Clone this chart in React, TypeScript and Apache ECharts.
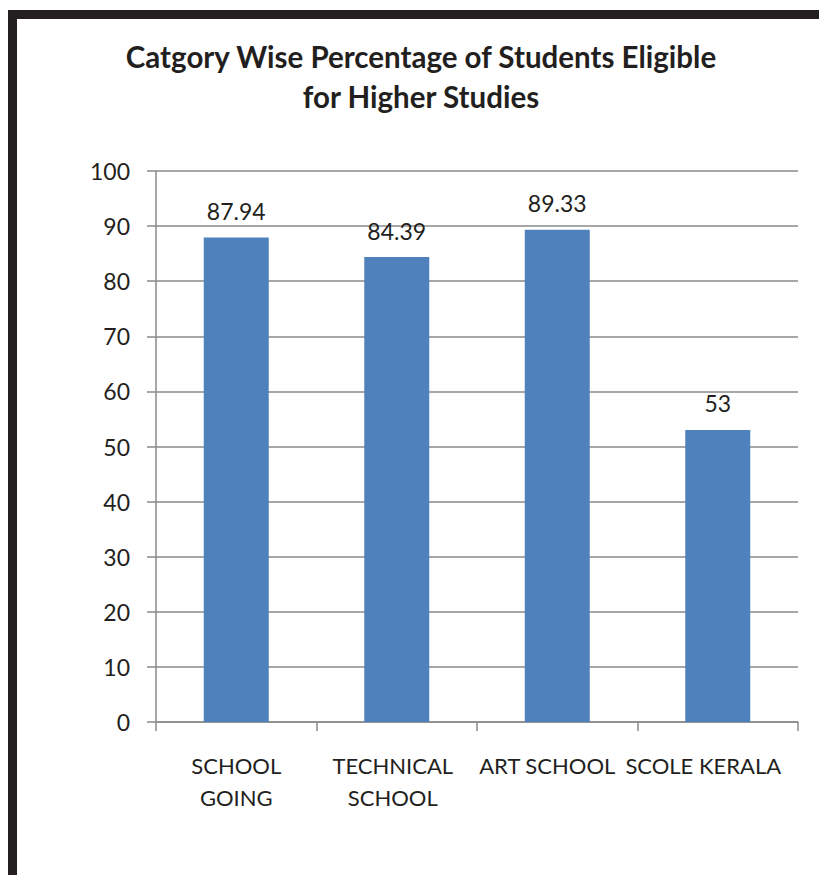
import React, { useEffect, useRef } from "react";
import * as echarts from "echarts";

const categories = ["SCHOOL\nGOING", "TECHNICAL\nSCHOOL", "ART SCHOOL", "SCOLE KERALA"];
const values = [87.94, 84.39, 89.33, 53];
const titleLines = ["Catgory Wise Percentage of Students Eligible", "for Higher Studies"];
const yMin = 0;
const yMax = 100;
const yInterval = 10;
// leftward nudge (px) of each category label, as in the reference layout
const labelShift = [0, 8, 20, 29];

const FONT = "Lato";
const TEXT = "#231f20";
const GRID = "#8a8a8a";

export default function App() {
  const ref = useRef<HTMLDivElement>(null);
  useEffect(() => {
    if (!ref.current) return;
    const chart = echarts.init(ref.current, undefined, { renderer: "svg" });
    chart.setOption({
      animation: false,
      backgroundColor: "#ffffff",
      textStyle: { fontFamily: FONT, color: TEXT },
      graphic: [
        { type: "rect", shape: { x: 8, y: 10, width: 811, height: 9 }, style: { fill: "#231f20" } },
        { type: "rect", shape: { x: 8, y: 10, width: 9, height: 865 }, style: { fill: "#231f20" } },
        {
          type: "text",
          x: 421,
          y: 56,
          style: {
            text: titleLines[0],
            font: `bold 29.5px ${FONT}`,
            fill: TEXT,
            textAlign: "center",
            textVerticalAlign: "middle",
          },
        },
        {
          type: "text",
          x: 421,
          y: 96,
          style: {
            text: titleLines[1],
            font: `bold 29.5px ${FONT}`,
            fill: TEXT,
            textAlign: "center",
            textVerticalAlign: "middle",
          },
        },
      ],
      grid: { left: 156, right: 21, top: 171, bottom: 153, containLabel: false },
      xAxis: {
        type: "category",
        data: categories.map((c, i) => ({
          value: c,
          textStyle: { padding: [0, labelShift[i], 0, 0] },
        })),
        boundaryGap: true,
        axisLine: { show: true, lineStyle: { color: GRID, width: 1.5 } },
        axisTick: { show: true, length: 9, lineStyle: { color: GRID, width: 1.5 } },
        axisLabel: {
          interval: 0,
          margin: 27,
          fontFamily: FONT,
          fontSize: 22,
          lineHeight: 32,
          color: TEXT,
        },
      },
      yAxis: {
        type: "value",
        min: yMin,
        max: yMax,
        interval: yInterval,
        axisLine: { show: true, lineStyle: { color: GRID, width: 1.5 } },
        axisTick: { show: true, length: 9, lineStyle: { color: GRID, width: 1.5 } },
        splitLine: { show: true, lineStyle: { color: GRID, width: 1.5 } },
        axisLabel: { margin: 26, fontFamily: FONT, fontSize: 23, color: TEXT },
      },
      series: [
        {
          type: "bar",
          data: values,
          barWidth: 65,
          itemStyle: { color: "#4f81bd" },
          label: {
            show: true,
            position: "top",
            distance: 15,
            fontFamily: FONT,
            fontSize: 23,
            color: TEXT,
          },
        },
      ],
    });
    return () => chart.dispose();
  }, []);
  return (
    <div
      ref={ref}
      style={{ position: "fixed", left: 0, top: 0, width: 819, height: 875, background: "#fff" }}
    />
  );
}
